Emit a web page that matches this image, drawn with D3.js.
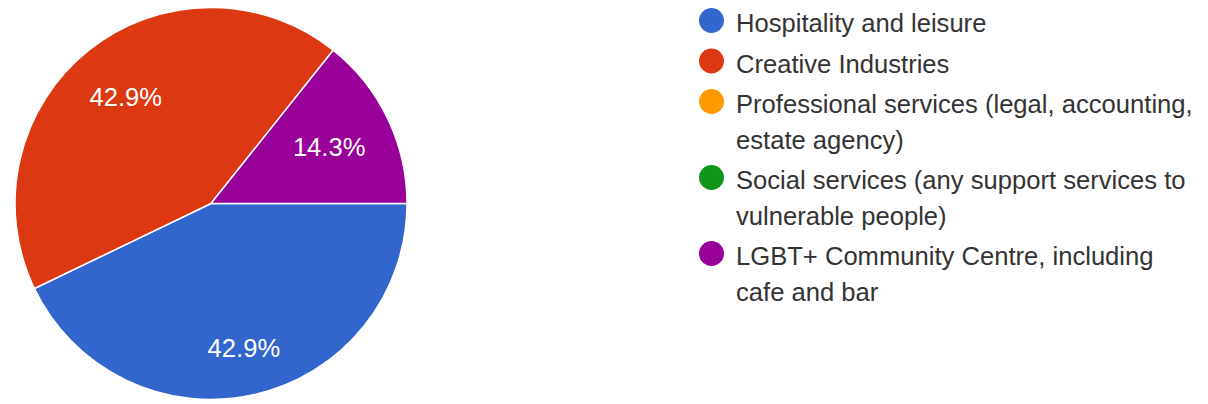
<!DOCTYPE html>
<html>
<head>
<meta charset="utf-8">
<script src="https://cdn.jsdelivr.net/npm/d3@7"></script>
<style>
  html, body { margin: 0; padding: 0; background: #ffffff; }
  svg { display: block; }
</style>
</head>
<body>
<svg id="chart" width="1208" height="404"></svg>
<script>
// Survey answers: sector of work
const categories = [
  "Hospitality and leisure",
  "Creative Industries",
  "Professional services (legal, accounting, estate agency)",
  "Social services (any support services to vulnerable people)",
  "LGBT+ Community Centre, including cafe and bar"
];
const responses = [3, 3, 0, 0, 1];
const sliceColors = ["#3366cc", "#dc3912", "#ff9900", "#109618", "#990099"];

const W = 1208, H = 404;
const FONT = "'Liberation Sans', Arial, sans-serif";
const FS = 25.6;

const svg = d3.select("#chart");

// ---- pie ----
const cx = 211, cy = 203.5, R = 196;
const total = d3.sum(responses);

const pie = d3.pie()
  .value(d => d.value)
  .sort(null)
  .startAngle(Math.PI / 2)
  .endAngle(Math.PI / 2 + 2 * Math.PI);

const data = categories.map((c, i) => ({ name: c, value: responses[i], color: sliceColors[i] }));
const arcs = pie(data).filter(a => a.data.value > 0);

const arc = d3.arc().innerRadius(0).outerRadius(R);

const gPie = svg.append("g").attr("transform", `translate(${cx},${cy})`);

gPie.selectAll("path.slice")
  .data(arcs)
  .enter().append("path")
  .attr("class", "slice")
  .attr("d", arc)
  .attr("fill", d => d.data.color)
  .attr("stroke", "#ffffff")
  .attr("stroke-width", 1.5)
  .attr("stroke-linejoin", "round");

// percentage labels: push the text box outward along the slice's mid-angle
// until its outer corner reaches a fixed radius
const fmt = d3.format(".1f");
const cornerRadius = 168;
const labels = gPie.selectAll("text.pct")
  .data(arcs)
  .enter().append("text")
  .attr("class", "pct")
  .attr("font-family", FONT)
  .attr("font-size", FS)
  .attr("fill", "#ffffff")
  .attr("text-anchor", "middle")
  .text(d => fmt(d.data.value / total * 100) + "%");

labels.each(function(d) {
  const w = this.getComputedTextLength();
  const hw = w / 2, hh = FS * 0.358;
  const mid = (d.startAngle + d.endAngle) / 2;
  const dx = Math.sin(mid), dy = -Math.cos(mid);
  const b = hw * Math.abs(dx) + hh * Math.abs(dy);
  const c = hw * hw + hh * hh - cornerRadius * cornerRadius;
  const t = -b + Math.sqrt(b * b - c);
  d3.select(this)
    .attr("x", t * dx)
    .attr("y", t * dy + hh);
});

// ---- legend ----
const legendX = 711.5, textX = 736, firstBaseline = 32;
const lineH = 35.5, itemGap = 5;
const maxTextW = 465;

const gLeg = svg.append("g");

// measure helper for wrapping
const measure = svg.append("text")
  .attr("font-family", FONT).attr("font-size", FS)
  .attr("visibility", "hidden");
function wrap(str) {
  const words = str.split(" ");
  const lines = [];
  let cur = "";
  words.forEach(w => {
    const trial = cur ? cur + " " + w : w;
    measure.text(trial);
    if (measure.node().getComputedTextLength() > maxTextW && cur) {
      lines.push(cur);
      cur = w;
    } else {
      cur = trial;
    }
  });
  if (cur) lines.push(cur);
  return lines;
}

let y = firstBaseline;
data.forEach(d => {
  const lines = wrap(d.name);
  const item = gLeg.append("g");
  item.append("circle")
    .attr("cx", legendX)
    .attr("cy", y - 11.5)
    .attr("r", 12.5)
    .attr("fill", d.color);
  const txt = item.append("text")
    .attr("font-family", FONT)
    .attr("font-size", FS)
    .attr("fill", "#333333");
  lines.forEach((ln, k) => {
    txt.append("tspan")
      .attr("x", textX)
      .attr("y", y + k * lineH)
      .text(ln);
  });
  y += lines.length * lineH + itemGap;
});
measure.remove();
</script>
</body>
</html>
